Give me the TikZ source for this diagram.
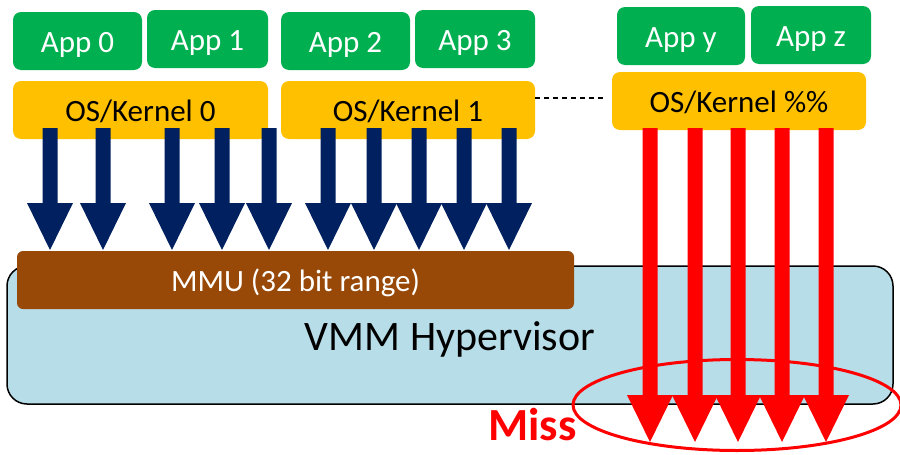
\documentclass[tikz,border=0pt]{standalone}
\usepackage{fontspec}
\setmainfont{Carlito}
\usetikzlibrary{calc,shapes.geometric}
\definecolor{appgreen}{HTML}{00B050}
\definecolor{kernelyellow}{HTML}{FFC000}
\definecolor{mmubrown}{HTML}{984807}
\definecolor{vmmblue}{HTML}{B7DDE8}
\definecolor{navy}{HTML}{002060}
\definecolor{missred}{HTML}{FF0000}
% block arrow: colour, x of the axis, y of the top, y of the tip
\newcommand\blockarrow[4]{%
  \fill[#1] (#2-7.5,#3) -- (#2+7.5,#3) -- (#2+7.5,#4-47) -- (#2+23,#4-47)
    -- (#2,#4) -- (#2-23,#4-47) -- (#2-7.5,#4-47) -- cycle;}
\begin{document}
\begin{tikzpicture}[x=1pt,y=-1pt,
  box/.style={rounded corners=8pt, inner sep=0pt, outer sep=0pt,
    text height=40pt, text depth=18pt, minimum height=58pt,
    font=\fontsize{31}{31}\selectfont},
  app/.style={box, fill=appgreen, text=white},
  kernel/.style={box, fill=kernelyellow, text=black, minimum width=254pt},
  mmubox/.style={box, rounded corners=6pt, fill=mmubrown, text=white},
  vmmbox/.style={rounded corners=20pt, draw=black, line width=1.5pt, fill=vmmblue,
    inner sep=0pt, text height=84pt, text depth=54pt, minimum height=138pt,
    font=\fontsize{42}{42}\selectfont},
]
\useasboundingbox (0,0) rectangle (900,455);

% hypervisor and MMU
\node[vmmbox, minimum width=886pt] (vmm) at (450,335) {VMM Hypervisor};
\node[mmubox, minimum width=557pt] (mmu) at (295.5,280) {MMU (32 bit range)};

% applications
\node[app, minimum width=129pt] (app0) at (77.5,41) {App 0};
\node[app, minimum width=121pt] (app1) at (207.5,39) {App 1};
\node[app, minimum width=129pt] (app2) at (345.5,41) {App 2};
\node[app, minimum width=120pt] (app3) at (475,39) {App 3};
\node[app, minimum width=128pt] (appy) at (681,36) {App y};
\node[app, minimum width=120pt] (appz) at (811,35) {App z};

% guest kernels
\node[kernel, minimum width=255pt] (os0) at (140.5,110) {OS/Kernel 0};
\node[kernel] (os1) at (408,110) {OS/Kernel 1};
\node[kernel] (osn) at (739,101) {OS/Kernel \%\%};

\draw[dash pattern=on 5pt off 4pt, line width=1.2pt]
  ($(os1.east)+(0,-12)$) -- ($(osn.west)+(-7,-3)$);

% translated accesses through the MMU
\foreach \x in {50,103,172,222,269,328,374,419,464,509}
  \blockarrow{navy}{\x}{128}{250};

% accesses beyond the MMU range
\foreach \x in {650,695,738,782,826}
  \blockarrow{missred}{\x}{128}{442};

\node[ellipse, draw=missred, line width=3pt, inner sep=0pt,
  minimum width=328pt, minimum height=91pt] (missring) at (737,405) {};
\node[anchor=base, text=missred, font=\bfseries\fontsize{46}{46}\selectfont]
  (miss) at (532.5,440) {Miss};
\end{tikzpicture}
\end{document}
